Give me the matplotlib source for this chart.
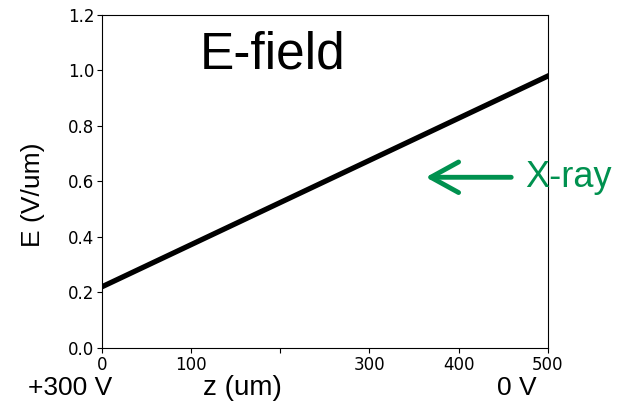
import matplotlib.pyplot as plt

# E-field across the sensor (linear)
z = [0, 500]
e_field = [0.22, 0.98]

xticks = [0, 100, 200, 300, 400, 500]
xtick_labels = ["0", "100", "", "300", "400", "500"]
yticks = [0.0, 0.2, 0.4, 0.6, 0.8, 1.0, 1.2]

green = "#00914f"
sans = "Liberation Sans"

fig = plt.figure(figsize=(6.17, 4.05), dpi=100)
ax = fig.add_axes([0.165, 0.141, 0.723, 0.822])

ax.plot(z, e_field, color="black", lw=3.8)
ax.set_xlim(0, 500)
ax.set_ylim(0, 1.2)
ax.set_xticks(xticks)
ax.set_xticklabels(xtick_labels)
ax.set_yticks(yticks)
ax.set_yticklabels([f"{v:.1f}" for v in yticks])
ax.tick_params(labelsize=12, pad=2)

ax.set_ylabel("E (V/um)", fontsize=19, family=sans)
ax.yaxis.set_label_coords(-0.128, 0.46)

ax.text(0.382, 0.88, "E-field", transform=ax.transAxes, fontsize=37,
        family=sans, ha="center", va="center")

# X-ray arrow and label
ax.annotate("", xy=(360, 0.615), xytext=(462, 0.615),
            arrowprops=dict(arrowstyle="->,head_length=2.0,head_width=1.1",
                            color=green, lw=3.5),
            annotation_clip=False)
ax.text(474, 0.615, "X-ray", fontsize=26, family=sans, color=green,
        ha="left", va="center", clip_on=False)

fig.text(0.113, 0.042, "+300 V", fontsize=19, family=sans, ha="center", va="center")
fig.text(0.393, 0.042, "z (um)", fontsize=20, family=sans, ha="center", va="center")
fig.text(0.837, 0.042, "0 V", fontsize=19, family=sans, ha="center", va="center")

fig.savefig("out.png", dpi=100)
